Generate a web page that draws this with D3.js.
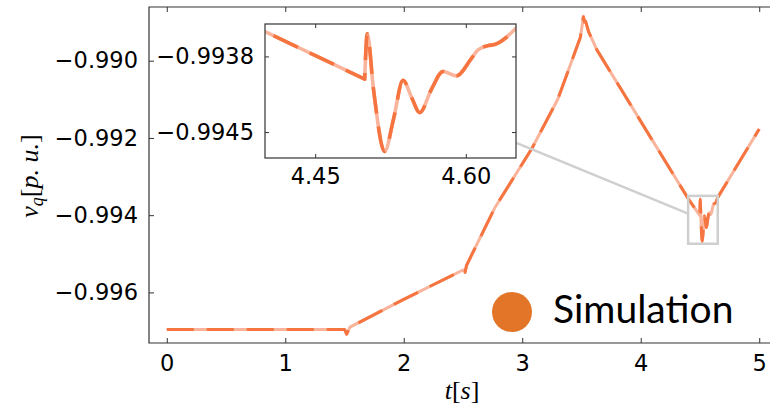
<!DOCTYPE html>
<html><head><meta charset="utf-8">
<script src="https://cdn.jsdelivr.net/npm/d3@7"></script>
<style>body{margin:0;background:#fff}svg{display:block}</style>
</head><body>
<svg id="c" width="770" height="405"></svg>
<script>
// ---- data ----
const timeValues = [0, 0.5, 1.0, 1.50, 1.518, 1.546, 2.0, 2.50, 2.517, 2.53, 2.77, 3.08, 3.30, 3.49, 3.505, 3.516, 3.525, 3.535, 3.56, 3.63,
  4.40, 4.4993, 4.5019, 4.508, 4.5192, 4.528, 4.5375, 4.546, 4.5541, 4.566, 4.5773, 4.5905, 4.6055, 4.6122, 4.6221, 4.6288, 4.65, 5.0];
const vqValues = [-0.99696, -0.99696, -0.99696, -0.99696, -0.99708, -0.99690, -0.99618, -0.99542, -0.99548, -0.99530, -0.99380, -0.99228, -0.99100, -0.98940, -0.98910, -0.98886, -0.98900, -0.98898, -0.98925, -0.98972,
  -0.99357, -0.99401, -0.99359, -0.99410, -0.99468, -0.99438, -0.99402, -0.99418, -0.99432, -0.99410, -0.99394, -0.99398, -0.99382, -0.99374, -0.99370, -0.99369, -0.99354, -0.99177];
const oscillationStart = 4.4993, oscillationEnd = 4.65;
const xTicks = [0, 1, 2, 3, 4, 5];
const yTicks = [-0.990, -0.992, -0.994, -0.996];
const insetXTicks = [4.45, 4.60];
const insetYTicks = [-0.9938, -0.9945];
const insetXDomain = [4.40, 4.65];
const insetYDomain = [-0.99474, -0.99350];
const connectorT = [2.95, 4.40];
const connectorV = [-0.99213, -0.99396];
const legendLabel = "Simulation";

const data = timeValues.map((t, i) => ({t, v: vqValues[i]}));
const partA = data.filter(d => d.t <= oscillationStart);
const partB = data.filter(d => d.t >= oscillationStart && d.t <= oscillationEnd);
const partC = data.filter(d => d.t >= oscillationEnd);

const svg = d3.select("#c");
const DARK = "#f5743f", LIGHT = "#f9b49b", FRAME = "#333";
const tickFont = "'DejaVu Sans', sans-serif";
const TF = 22.5;
const minus = s => s.replace("-", "\u2212");

function drawSeries(parent, xs, ys, width) {
  const lin = d3.line().x(d => xs(d.t)).y(d => ys(d.v));
  const smooth = d3.line().x(d => xs(d.t)).y(d => ys(d.v)).curve(d3.curveMonotoneX);
  const joined = lin(partA) + smooth(partB).replace(/^M/, "L") + lin(partC).replace(/^M/, "L");
  parent.append("path").attr("d", joined).attr("fill", "none")
    .attr("stroke", LIGHT).attr("stroke-width", width).attr("stroke-linejoin", "round");
  parent.append("path").attr("d", joined).attr("fill", "none")
    .attr("stroke", DARK).attr("stroke-width", width).attr("stroke-dasharray", "27,13").attr("stroke-linejoin", "round");
}

// ---- main axes ----
const x = d3.scaleLinear().domain([-0.15, 5.15]).range([149, 777]);
const y = d3.scaleLinear().domain([-0.99731, -0.98861]).range([343, 7]);

const defs = svg.append("defs");
defs.append("clipPath").attr("id", "mainClip")
  .append("rect").attr("x", 149).attr("y", 7).attr("width", 628).attr("height", 336);

const g = svg.append("g").attr("clip-path", "url(#mainClip)");
drawSeries(g, x, y, 3);

g.append("rect")
  .attr("x", x(insetXDomain[0])).attr("y", y(insetYDomain[1]))
  .attr("width", x(insetXDomain[1]) - x(insetXDomain[0]))
  .attr("height", y(insetYDomain[0]) - y(insetYDomain[1]))
  .attr("fill", "none").attr("stroke", "#cfcfcf").attr("stroke-width", 2.5);
g.append("line")
  .attr("x1", x(connectorT[0])).attr("y1", y(connectorV[0]))
  .attr("x2", x(connectorT[1])).attr("y2", y(connectorV[1]))
  .attr("stroke", "#cfcfcf").attr("stroke-width", 2.5);

svg.append("path").attr("d", `M${777},7H149V343H777`).attr("fill", "none")
  .attr("stroke", FRAME).attr("stroke-width", 1.2);

const gx = svg.append("g").attr("transform", "translate(0,343)")
  .call(d3.axisBottom(x).tickValues(xTicks).tickSize(-5).tickPadding(12).tickFormat(d3.format("d")));
gx.select(".domain").remove();
gx.selectAll("text").attr("font-family", tickFont).attr("font-size", TF).attr("fill", "#000");
gx.selectAll("line").attr("stroke", FRAME);
const gxt = svg.append("g").attr("transform", "translate(0,7)")
  .call(d3.axisTop(x).tickValues(xTicks).tickSize(-5).tickFormat(""));
gxt.select(".domain").remove();
gxt.selectAll("line").attr("stroke", FRAME);

const gy = svg.append("g").attr("transform", "translate(149,0)")
  .call(d3.axisLeft(y).tickValues(yTicks).tickSize(-5).tickPadding(11)
    .tickFormat(d => minus(d3.format(".3f")(d))));
gy.select(".domain").remove();
gy.selectAll("text").attr("font-family", tickFont).attr("font-size", TF).attr("fill", "#000");
gy.selectAll("line").attr("stroke", FRAME);

const xl = svg.append("text").attr("x", 462).attr("y", 399).attr("text-anchor", "middle")
  .attr("font-family", "'Liberation Serif', serif").attr("font-size", 26);
xl.append("tspan").attr("font-style", "italic").text("t");
xl.append("tspan").text("[");
xl.append("tspan").attr("font-style", "italic").text("s");
xl.append("tspan").text("]");

const yl = svg.append("text").attr("transform", "translate(38,176) rotate(-90)").attr("text-anchor", "middle")
  .attr("font-family", "'Liberation Serif', serif").attr("font-size", 26);
yl.append("tspan").attr("font-style", "italic").text("v");
yl.append("tspan").attr("font-style", "italic").attr("font-size", 18).attr("dy", 5).text("q");
yl.append("tspan").attr("dy", -5).text("[");
yl.append("tspan").attr("font-style", "italic").text("p. u.");
yl.append("tspan").text("]");

// ---- inset ----
const xi = d3.scaleLinear().domain(insetXDomain).range([265, 516]);
const yi = d3.scaleLinear().domain(insetYDomain).range([158, 24]);
svg.append("rect").attr("x", 265).attr("y", 24).attr("width", 251).attr("height", 134).attr("fill", "#fff");
defs.append("clipPath").attr("id", "insetClip")
  .append("rect").attr("x", 265).attr("y", 24).attr("width", 251).attr("height", 134);
const gi = svg.append("g").attr("clip-path", "url(#insetClip)");
drawSeries(gi, xi, yi, 3.6);
svg.append("rect").attr("x", 265).attr("y", 24).attr("width", 251).attr("height", 134)
  .attr("fill", "none").attr("stroke", FRAME).attr("stroke-width", 1.2);

const gix = svg.append("g").attr("transform", "translate(0,158)")
  .call(d3.axisBottom(xi).tickValues(insetXTicks).tickSize(-4).tickPadding(10).tickFormat(d3.format(".2f")));
gix.select(".domain").remove();
gix.selectAll("text").attr("font-family", tickFont).attr("font-size", TF).attr("fill", "#000");
gix.selectAll("line").attr("stroke", FRAME);
const gixt = svg.append("g").attr("transform", "translate(0,24)")
  .call(d3.axisTop(xi).tickValues(insetXTicks).tickSize(-4).tickFormat(""));
gixt.select(".domain").remove(); gixt.selectAll("line").attr("stroke", FRAME);

const giy = svg.append("g").attr("transform", "translate(265,0)")
  .call(d3.axisLeft(yi).tickValues(insetYTicks).tickSize(-4).tickPadding(11)
    .tickFormat(d => minus(d3.format(".4f")(d))));
giy.select(".domain").remove();
giy.selectAll("text").attr("font-family", tickFont).attr("font-size", TF).attr("fill", "#000");
giy.selectAll("line").attr("stroke", FRAME);
const giyr = svg.append("g").attr("transform", "translate(516,0)")
  .call(d3.axisRight(yi).tickValues(insetYTicks).tickSize(-4).tickFormat(""));
giyr.select(".domain").remove(); giyr.selectAll("line").attr("stroke", FRAME);

// ---- legend ----
svg.append("circle").attr("cx", 512).attr("cy", 312).attr("r", 20).attr("fill", "#e27528");
svg.append("text").attr("x", 553).attr("y", 323).attr("font-family", "Lato, sans-serif")
  .attr("font-size", 39).attr("fill", "#000").text(legendLabel);
</script>
</body></html>
